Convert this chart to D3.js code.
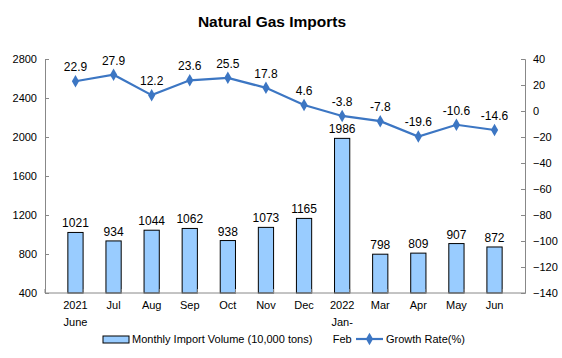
<!DOCTYPE html>
<html><head><meta charset="utf-8">
<script src="https://cdn.jsdelivr.net/npm/d3@7"></script>
<style>body{margin:0;background:#fff}svg{display:block;font-family:Arial,"Liberation Sans",sans-serif}</style>
</head><body><svg id="c" width="562" height="358"></svg>
<script>
const categories = [["2021","June"],["Jul"],["Aug"],["Sep"],["Oct"],["Nov"],["Dec"],["2022","Jan-","Feb"],["Mar"],["Apr"],["May"],["Jun"]];
const volume = [1021,934,1044,1062,938,1073,1165,1986,798,809,907,872];
const growth = [22.9,27.9,12.2,23.6,25.5,17.8,4.6,-3.8,-7.8,-19.6,-10.6,-14.6];
const leftTicks = [400,800,1200,1600,2000,2400,2800];
const rightTicks = [40,20,0,-20,-40,-60,-80,-100,-120,-140];

const svg = d3.select("#c");
const L=45, R=525, T=59, B=293;
const x = d3.scaleBand().domain(d3.range(categories.length)).range([L,R]).padding(0.6);
const yL = d3.scaleLinear().domain([400,2800]).range([B,T]);
const yR = d3.scaleLinear().domain([-140,40]).range([B,T]);
const axisCol="#888";

svg.append("text").attr("x",272).attr("y",27).attr("text-anchor","middle")
  .attr("font-size",15.5).attr("font-weight","bold").text("Natural Gas Imports");

// bars
svg.selectAll("rect.bar").data(volume).join("rect").attr("class","bar")
  .attr("x",(d,i)=>x(i)).attr("width",x.bandwidth())
  .attr("y",d=>yL(d)).attr("height",d=>B-yL(d))
  .attr("fill","#99CCFF").attr("stroke","#000").attr("stroke-width",1);
svg.selectAll("text.bl").data(volume).join("text").attr("class","bl")
  .attr("x",(d,i)=>x(i)+x.bandwidth()/2).attr("y",d=>yL(d)-5)
  .attr("text-anchor","middle").attr("font-size",12).text(d=>d);

// left axis
const gl = svg.append("g").attr("transform",`translate(${L},0)`)
  .call(d3.axisLeft(yL).tickValues(leftTicks).tickSize(-4).tickPadding(8).tickFormat(d3.format("d")));
// right axis
const gr = svg.append("g").attr("transform",`translate(${R},0)`)
  .call(d3.axisRight(yR).tickValues(rightTicks).tickSize(-4).tickPadding(8).tickFormat(d3.format("d")));
[gl,gr].forEach(g=>{g.select(".domain").attr("stroke",axisCol);g.selectAll(".tick line").attr("stroke",axisCol);
  g.selectAll("text").attr("font-size",11).attr("fill","#000").attr("font-family","Arial,'Liberation Sans',sans-serif");});
// bottom axis
const step = x.step();
svg.append("line").attr("x1",L).attr("x2",R).attr("y1",B).attr("y2",B).attr("stroke",axisCol);
svg.selectAll("line.bt").data(d3.range(categories.length+1)).join("line").attr("class","bt")
  .attr("x1",i=>L+i*step).attr("x2",i=>L+i*step).attr("y1",B).attr("y2",B-4).attr("stroke",axisCol);
const xl = svg.selectAll("text.xl").data(categories).join("text").attr("class","xl")
  .attr("x",(d,i)=>x(i)+x.bandwidth()/2).attr("y",B+16).attr("text-anchor","middle").attr("font-size",11);
xl.each(function(d){const t=d3.select(this);const cx=t.attr("x");
  d.forEach((s,j)=>t.append("tspan").attr("x",cx).attr("dy",j?17:0).text(s));});

// line
const line = d3.line().x((d,i)=>x(i)+x.bandwidth()/2).y(d=>yR(d));
svg.append("path").datum(growth).attr("d",line).attr("fill","none").attr("stroke","#3C76C3").attr("stroke-width",2.2);
const diamond = d3.symbol().type(d3.symbolDiamond).size(45);
svg.selectAll("path.m").data(growth).join("path").attr("class","m").attr("d",diamond)
  .attr("transform",(d,i)=>`translate(${x(i)+x.bandwidth()/2},${yR(d)})`).attr("fill","#3C76C3");
svg.selectAll("text.gl").data(growth).join("text").attr("class","gl")
  .attr("x",(d,i)=>x(i)+x.bandwidth()/2).attr("y",d=>yR(d)-10)
  .attr("text-anchor","middle").attr("font-size",12).text(d=>d.toFixed(1));

// legend
svg.append("rect").attr("x",103).attr("y",336).attr("width",26).attr("height",7)
  .attr("fill","#99CCFF").attr("stroke","#000");
svg.append("text").attr("x",132).attr("y",343).attr("font-size",11).text("Monthly Import Volume (10,000 tons)");
svg.append("line").attr("x1",356).attr("x2",383).attr("y1",339).attr("y2",339).attr("stroke","#3C76C3").attr("stroke-width",2.2);
svg.append("path").attr("d",diamond).attr("transform","translate(369.5,339)").attr("fill","#3C76C3");
svg.append("text").attr("x",386).attr("y",343).attr("font-size",11).text("Growth Rate(%)");
</script></body></html>
